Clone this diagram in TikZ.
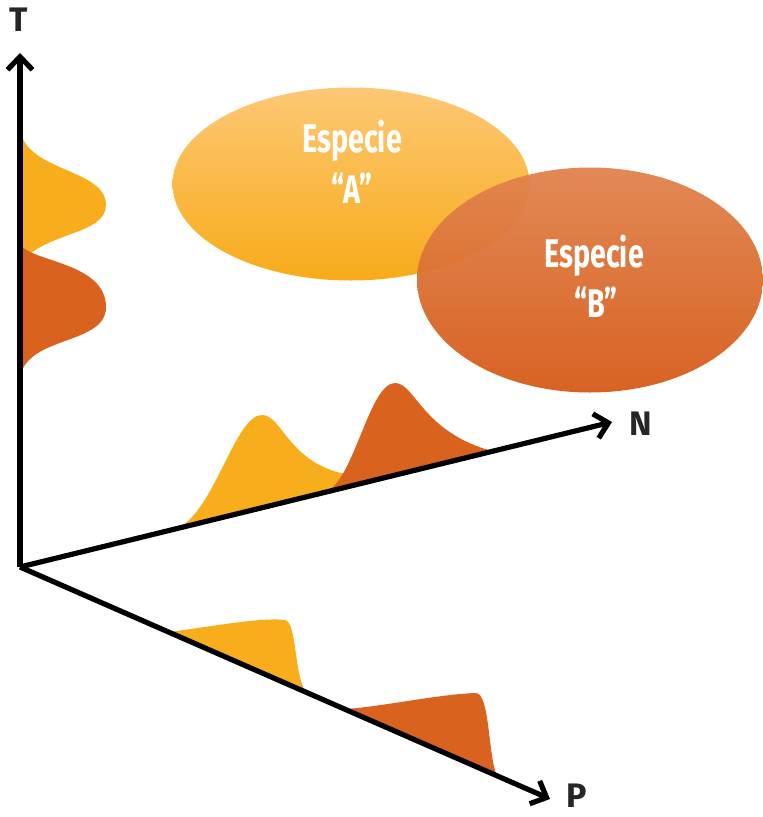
\documentclass[tikz,border=0pt]{standalone}
\usepackage{fontspec}
\setmainfont{Fira Sans}
\newfontfamily\condfont[FakeStretch=0.72]{Fira Sans}
\usetikzlibrary{arrows.meta,shapes.geometric}
\definecolor{ylw}{HTML}{F8AD1C}
\definecolor{org}{HTML}{D8621E}
\definecolor{ylwtop}{HTML}{FDC875}
\definecolor{ylwbot}{HTML}{F8AB19}
\definecolor{orgtop}{HTML}{E1844F}
\definecolor{orgmid}{HTML}{D9631E}
\definecolor{orgbot}{HTML}{D65C1A}
\tikzset{
  axis/.style={line width=5.2pt,-{Straight Barb[length=13pt,width=25pt,line width=5.2pt]}},
  axislabel/.style={font=\fontsize{34}{34}\selectfont\bfseries,text=black!85,inner sep=0pt},
  sptext/.style={font=\fontsize{40}{40}\selectfont\condfont\bfseries,text=white,inner sep=0pt},
  blob/.style={ellipse,inner sep=0pt,draw=none},
}
\begin{document}
\begin{tikzpicture}[x=1pt,y=-1pt]
\useasboundingbox (0,0) rectangle (763,817);
% ellipses
\node[blob,minimum width=357pt,minimum height=193pt,top color=ylwtop,bottom color=ylwbot] (A) at (351,184) {};
\node[blob,minimum width=346pt,minimum height=225pt,top color=orgtop,middle color=orgmid,bottom color=orgbot,opacity=0.96] (B) at (590,280) {};
\node[sptext] (At1) at (352,141) {Especie};
\node[sptext] (At2) at (352,188) {“A”};
\node[sptext] (Bt1) at (594,256) {Especie};
\node[sptext] (Bt2) at (596,302) {“B”};
% T axis curves
\fill[ylw] (20,128) .. controls (24,172) and (106,168) .. (106,205) .. controls (106,235) and (45,232) .. (22,262) -- (20,262) -- cycle;
\fill[org] (20,244) .. controls (30,262) and (106,262) .. (106,307) .. controls (106,345) and (30,335) .. (20,376) -- cycle;
% N axis curves
\fill[ylw] (178,528) .. controls (215,510) and (235,415) .. (262,415) .. controls (282,415) and (288,462) .. (345,474) -- (345,487) -- cycle;
\fill[org] (328,491) .. controls (355,475) and (370,383) .. (395,383) .. controls (415,383) and (422,432) .. (492,451) -- cycle;
% P axis curves
\fill[ylw] (168,632) .. controls (210,627) and (260,617) .. (285,620) .. controls (297,622) and (294,676) .. (306,692) -- cycle;
\fill[org] (345,709) .. controls (380,707) and (440,694) .. (476,693) .. controls (490,694) and (488,756) .. (497,776) -- cycle;
% axes
\coordinate (O) at (20,567);
\coordinate (Tend) at (20,53);
\coordinate (Nend) at (612,422);
\coordinate (Pend) at (550,799);
\draw[axis] (O) -- (Tend);
\draw[axis] (O) -- (Nend);
\draw[axis] (O) -- (Pend);
\node[axislabel] (Tl) at (19,20) {T};
\node[axislabel] (Nl) at (641,424) {N};
\node[axislabel] (Pl) at (577,796) {P};
\end{tikzpicture}
\end{document}
